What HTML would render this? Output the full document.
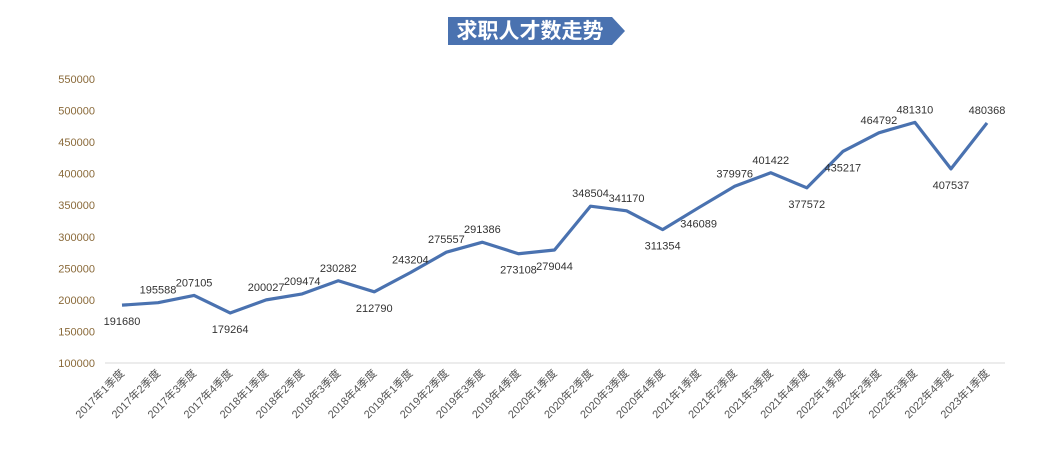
<!DOCTYPE html>
<html><head><meta charset="utf-8"><style>
body{margin:0;background:#fff;font-family:"Liberation Sans","Noto Sans CJK SC",sans-serif;}
svg text{font-family:"Liberation Sans","Noto Sans CJK SC",sans-serif;}
</style></head><body>
<svg id="chart" width="1040" height="447" viewBox="0 0 1040 447">
<g>
<polygon points="448,17 612,17 625,31 612,45 448,45" fill="#4a72b0"/>
<text x="530" y="38" font-size="21" font-weight="bold" fill="#fff" text-anchor="middle">求职人才数走势</text>
</g>
<g id="grid"></g><g id="yaxis"></g><g id="xaxis"></g><g id="series"></g>
</svg>
<script>
const categories=["2017年1季度","2017年2季度","2017年3季度","2017年4季度","2018年1季度","2018年2季度","2018年3季度","2018年4季度","2019年1季度","2019年2季度","2019年3季度","2019年4季度","2020年1季度","2020年2季度","2020年3季度","2020年4季度","2021年1季度","2021年2季度","2021年3季度","2021年4季度","2022年1季度","2022年2季度","2022年3季度","2022年4季度","2023年1季度"];
const values=[191680,195588,207105,179264,200027,209474,230282,212790,243204,275557,291386,273108,279044,348504,341170,311354,346089,379976,401422,377572,435217,464792,481310,407537,480368];
const labelBelow=[1,0,0,1,0,0,0,1,0,0,0,1,1,0,0,1,1,0,0,1,1,0,0,1,0];
const yTicks=[100000,150000,200000,250000,300000,350000,400000,450000,500000,550000];
const NS="http://www.w3.org/2000/svg";
const x0=122,x1=987,yMin=100000,yMax=550000,py0=363,py1=79;
function xs(i){return x0+(x1-x0)*i/(categories.length-1);}
function ys(v){return py0-(v-yMin)/(yMax-yMin)*(py0-py1);}
function mk(t,a,p){const e=document.createElementNS(NS,t);for(const k in a)e.setAttribute(k,a[k]);p.appendChild(e);return e;}
const grid=document.getElementById('grid'),ya=document.getElementById('yaxis'),xa=document.getElementById('xaxis'),se=document.getElementById('series');
const base=mk('line',{x1:105,x2:1005,y1:ys(yMin),y2:ys(yMin),stroke:'#d9d9d9','stroke-width':1},grid);


yTicks.forEach(v=>{const t=mk('text',{x:95,y:ys(v)+4,'font-size':11,fill:'#8a6a3a','text-anchor':'end'},ya);t.textContent=v;

});
categories.forEach((c,i)=>{const x=xs(i)+3,y=374;const t=mk('text',{x:x,y:y,'font-size':11,fill:'#555','text-anchor':'end',transform:`rotate(-45 ${x} ${y})`},xa);t.textContent=c;

});
const pl=mk('polyline',{points:values.map((v,i)=>xs(i)+','+ys(v)).join(' '),fill:'none',stroke:'#4a72b0','stroke-width':3.2,'stroke-linejoin':'round'},se);


values.forEach((v,i)=>{const t=mk('text',{x:xs(i),y:ys(v)+(labelBelow[i]?20:-9),'font-size':11,fill:'#333','text-anchor':'middle'},se);t.textContent=v;

});
</script>
</body></html>
